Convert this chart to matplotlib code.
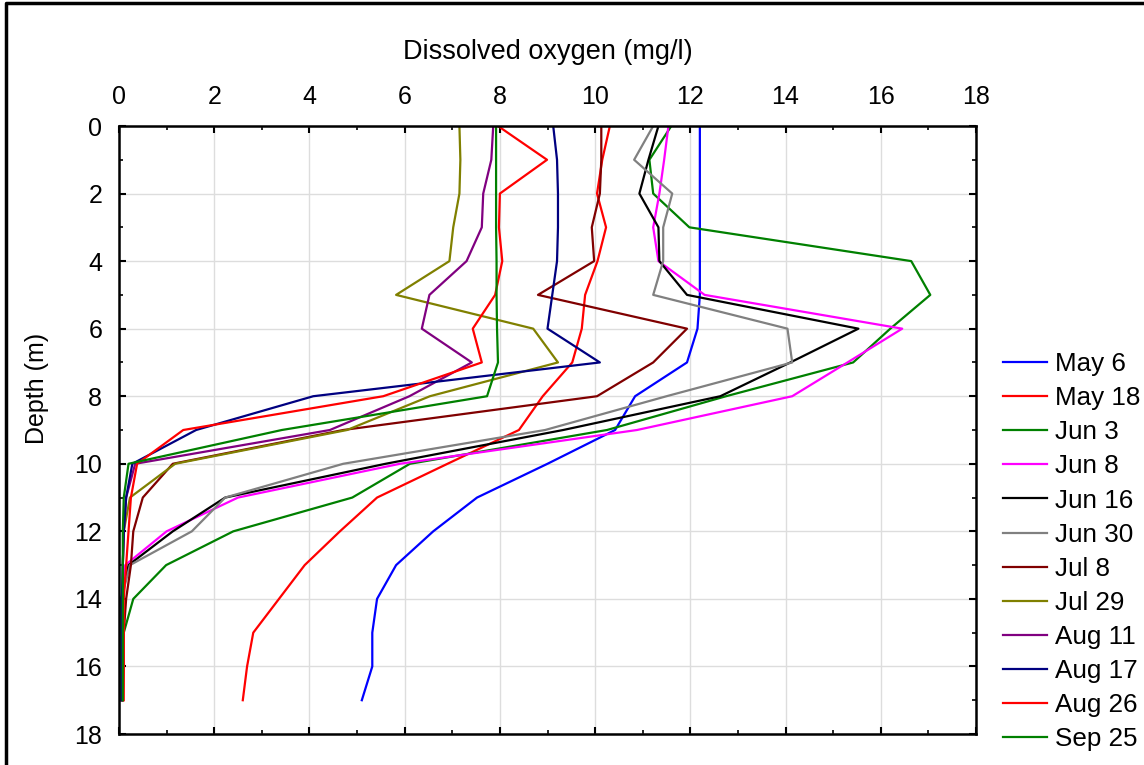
import matplotlib
matplotlib.use("Agg")
import matplotlib.pyplot as plt
from matplotlib.lines import Line2D
from matplotlib.ticker import MultipleLocator

plt.rcParams['font.family'] = ['Liberation Sans', 'DejaVu Sans']

depth = list(range(18))

may6 = [12.2, 12.2, 12.2, 12.2, 12.2, 12.2, 12.15, 11.93, 10.84, 10.42, 9.0, 7.52, 6.6, 5.82, 5.42, 5.32, 5.32, 5.1]
may18 = [10.31, 10.15, 10.04, 10.23, 10.05, 9.79, 9.72, 9.52, 8.9, 8.4, 6.9, 5.42, 4.64, 3.9, 3.36, 2.82, 2.69, 2.6]
jun3 = [11.6, 11.14, 11.22, 11.98, 16.64, 17.04, 16.2, 15.42, 12.75, 10.25, 6.11, 4.9, 2.4, 0.99, 0.3, 0.1, 0.05, 0.05]
jun8 = [11.54, 11.45, 11.35, 11.22, 11.33, 12.3, 16.45, 15.3, 14.14, 10.88, 5.9, 2.5, 1.0, 0.13, 0.05, 0.05, 0.05, 0.05]
jun16 = [11.33, 11.12, 10.93, 11.33, 11.35, 11.93, 15.53, 14.1, 12.63, 9.33, 5.6, 2.23, 1.13, 0.2, 0.05, 0.05, 0.05, 0.05]
jun30 = [11.22, 10.82, 11.62, 11.43, 11.43, 11.22, 14.04, 14.14, 11.5, 8.95, 4.71, 2.23, 1.53, 0.23, 0.05, 0.05, 0.05, 0.05]
jul8 = [10.13, 10.13, 10.1, 9.93, 9.98, 8.8, 11.93, 11.22, 10.04, 4.71, 1.13, 0.5, 0.3, 0.25, 0.15, 0.1, 0.1, 0.08]
jul29 = [7.15, 7.17, 7.15, 7.02, 6.94, 5.82, 8.7, 9.22, 6.53, 4.79, 1.18, 0.23, 0.1, 0.08, 0.08, 0.08, 0.08, 0.08]
aug11 = [7.86, 7.82, 7.65, 7.62, 7.3, 6.52, 6.36, 7.41, 6.1, 4.43, 0.34, 0.15, 0.1, 0.08, 0.08, 0.08, 0.08, 0.08]
aug17 = [9.12, 9.2, 9.22, 9.22, 9.2, 9.1, 9.0, 10.1, 4.08, 1.62, 0.28, 0.15, 0.1, 0.08, 0.06, 0.06, 0.06, 0.06]
aug26 = [7.96, 8.99, 8.0, 7.98, 8.05, 7.9, 7.43, 7.62, 5.55, 1.35, 0.38, 0.25, 0.2, 0.15, 0.1, 0.1, 0.1, 0.1]
sep25 = [7.92, 7.92, 7.92, 7.92, 7.93, 7.93, 7.94, 7.96, 7.73, 3.42, 0.2, 0.1, 0.08, 0.08, 0.08, 0.08, 0.08, 0.08]

labels = ["May 6", "May 18", "Jun 3", "Jun 8", "Jun 16", "Jun 30",
          "Jul 8", "Jul 29", "Aug 11", "Aug 17", "Aug 26", "Sep 25"]
series = [may6, may18, jun3, jun8, jun16, jun30, jul8, jul29, aug11, aug17, aug26, sep25]
colors = ["#0000ff", "#ff0000", "#008000", "#ff00ff", "#000000", "#808080",
          "#800000", "#808000", "#800080", "#000080", "#ff0000", "#008000"]

fs = 18

fig = plt.figure(figsize=(11.44, 7.65), dpi=100)
ax = fig.add_axes([119 / 1144, 1 - 734 / 765, 857 / 1144, 608 / 765])

for vals, lab, col in zip(series, labels, colors):
    ax.plot(vals, depth, color=col, lw=1.6, label=lab)

ax.set_xlim(0, 18)
ax.set_ylim(18, 0)
ax.xaxis.set_major_locator(MultipleLocator(2))
ax.xaxis.set_minor_locator(MultipleLocator(1))
ax.yaxis.set_major_locator(MultipleLocator(2))
ax.yaxis.set_minor_locator(MultipleLocator(1))
ax.xaxis.tick_top()
ax.xaxis.set_label_position("top")
ax.tick_params(which="both", direction="in", top=True, bottom=True, left=True, right=True,
               labeltop=True, labelbottom=False, labelsize=fs, pad=12)
ax.tick_params(which="major", length=5, width=1.5)
ax.tick_params(which="minor", length=3, width=1.2)
ax.grid(True, which="major", color="#dddddd", lw=1)
ax.set_axisbelow(True)
for sp in ax.spines.values():
    sp.set_linewidth(1.8)

ax.set_xlabel("Dissolved oxygen (mg/l)", fontsize=19.5, labelpad=19)
fig.text(37 / 1144, 1 - 388 / 765, "Depth (m)", rotation=90, ha="center", va="center", fontsize=fs)

fig.legend(loc="upper left", bbox_to_anchor=(1003 / 1144, 1 - 352 / 765), frameon=False,
           fontsize=18.7, handlelength=1.7, handletextpad=0.3, labelspacing=0.39,
           borderaxespad=0, borderpad=0)

# frame of the original picture (cropped on right and bottom)
fig.add_artist(Line2D([6 / 1144, 6 / 1144, 1.0], [0.0, 1 - 2.5 / 765, 1 - 2.5 / 765],
                      transform=fig.transFigure, color="black", lw=2.5))

fig.savefig("out.png", dpi=100)
